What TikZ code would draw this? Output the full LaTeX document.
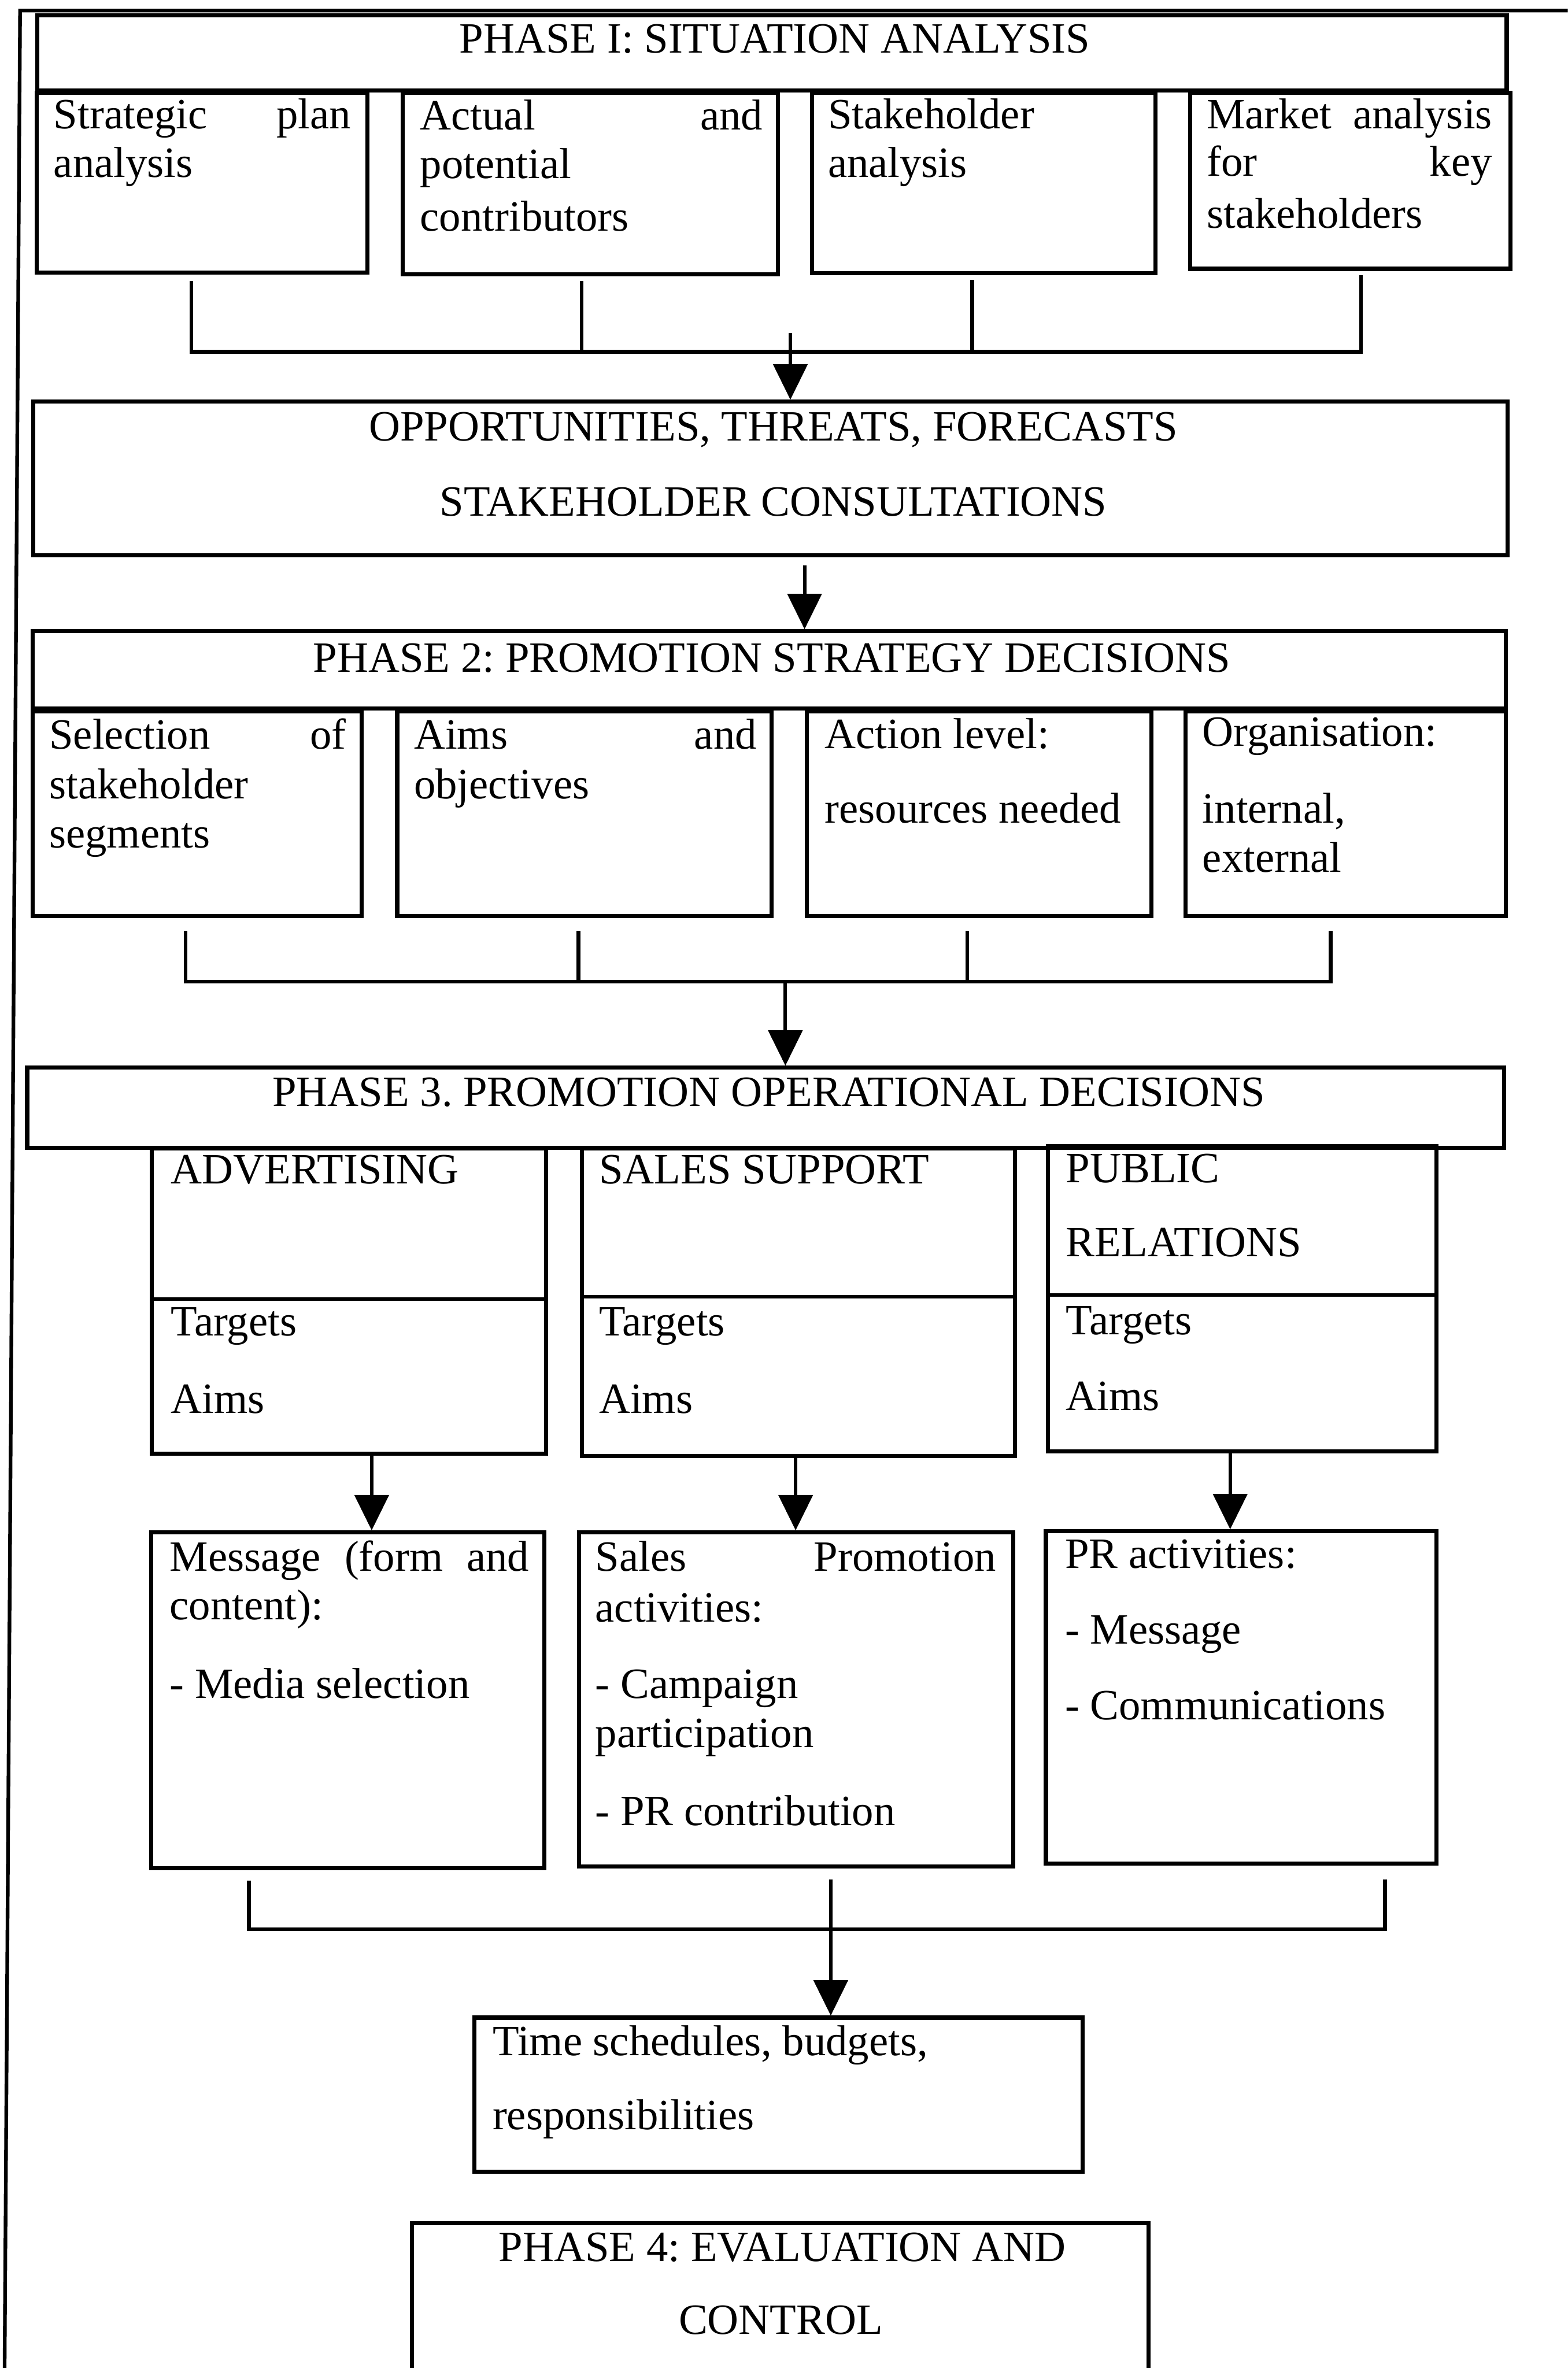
\documentclass[tikz,border=0pt]{standalone}
\usepackage{fontspec}
\setmainfont{Liberation Serif}
\usetikzlibrary{arrows.meta,fit,calc}
\newcommand\dfont{\fontsize{30.5pt}{35pt}\selectfont\frenchspacing}
% a line stretched to a fixed width (justified line)
\newcommand\jl[2]{\makebox[#1][s]{#2}}

\begin{document}
\begin{tikzpicture}[x=0.03747cm,y=-0.03747cm,
  box/.style={draw, line width=2.9pt, inner sep=0pt, rectangle},
  line/.style={line width=2.6pt},
  arr/.style={line width=2.4pt, -{Triangle[width=24pt,length=25pt]}},
  txt/.style={anchor=base west, inner sep=0pt, font=\dfont},
  ctxt/.style={anchor=base, inner sep=0pt, font=\dfont}]

\useasboundingbox (0,0) rectangle (1038,1568);
\clip (0,0) rectangle (1038,1568);

% outer frame (top and left rules)
\draw[line] (1045,7) -- (13.3,7) -- (3,1575);

% ---------- Phase 1 ----------
\node[box, fit={(24.8,10) (997.6,60)}] (p1) {};
\node[ctxt] (t-p1) at (513,35.2) {PHASE I: SITUATION ANALYSIS};

\node[box, fit={(24.3,61.5) (243.4,180.5)}] (sp) {};
\node[box, fit={(266.6,61.5) (515,181.6)}] (ac) {};
\node[box, fit={(537.5,61.5) (765,181)}] (sh) {};
\node[box, fit={(788,61.5) (1000,178)}] (mk) {};

\node[txt] (t-sp1) at (35.4,85) {\jl{209.8pt}{Strategic plan}};
\node[txt] (t-sp2) at (35.4,117.2) {analysis};
\node[txt] (t-ac1) at (278,86) {\jl{241.9pt}{Actual and}};
\node[txt] (t-ac2) at (278,118) {potential};
\node[txt] (t-ac3) at (278,153) {contributors};
\node[txt] (t-sh1) at (548,85) {Stakeholder};
\node[txt] (t-sh2) at (548,117.2) {analysis};
\node[txt] (t-mk1) at (798.8,85) {\jl{201.5pt}{Market analysis}};
\node[txt] (t-mk2) at (798.8,116.4) {\jl{201.5pt}{for key}};
\node[txt] (t-mk3) at (798.8,150.9) {stakeholders};

\node[box, fit={(22,266) (998,367.7)}] (op) {};
\node[ctxt] (t-op1) at (512,291.9) {OPPORTUNITIES, THREATS, FORECASTS};
\node[ctxt] (t-op2) at (512,341.6) {STAKEHOLDER CONSULTATIONS};

% bracket 1 and arrow
\coordinate (k11) at ($(sp.south)+(-7.25,4)$);
\coordinate (k12) at ($(ac.south)+(-5.8,3)$);
\coordinate (k13) at ($(sh.south)+(-7.55,3)$);
\coordinate (k14) at ($(mk.south)+(7.2,3)$);
\coordinate (bar1) at (0,233);
\draw[line] (k11) -- (k11 |- bar1) -- (k14 |- bar1) -- (k14);
\draw[line] (k12) -- (k12 |- bar1);
\draw[line] (k13) -- (k13 |- bar1);
\coordinate (a1) at (523.3,220.6);
\draw[arr] (a1) -- (a1 |- op.north);

% ---------- Phase 2 ----------
\node[box, fit={(21.6,418) (997,469)}] (p2) {};
\node[ctxt] (t-p2) at (511,444.9) {PHASE 2: PROMOTION STRATEGY DECISIONS};
\coordinate (a2) at ($(op.south)+(22.7,5.5)$);
\draw[arr] (a2) -- (a2 |- p2.north);

\node[box, fit={(21.6,471) (239.6,606.6)}] (se) {};
\node[box, fit={(263,471) (511,606.6)}] (ai) {};
\node[box, fit={(534.3,471) (762.5,606.6)}] (al) {};
\node[box, fit={(785,471) (997,606.6)}] (og) {};

\node[txt] (t-se1) at (32.5,495.8) {\jl{209.4pt}{Selection of}};
\node[txt] (t-se2) at (32.5,529) {stakeholder};
\node[txt] (t-se3) at (32.5,561.3) {segments};
\node[txt] (t-ai1) at (274,495.8) {\jl{241.9pt}{Aims and}};
\node[txt] (t-ai2) at (274,529) {objectives};
\node[txt] (t-al1) at (546,495.7) {Action level:};
\node[txt] (t-al2) at (546,545) {resources needed};
\node[txt] (t-og1) at (796,494) {Organisation:};
\node[txt] (t-og2) at (796,545) {internal,};
\node[txt] (t-og3) at (796,577.4) {external};

% bracket 2 and arrow
\coordinate (k21) at ($(se.south)+(-7.8,8.4)$);
\coordinate (k22) at ($(ai.south)+(-4,8.4)$);
\coordinate (k23) at ($(al.south)+(-7.9,8.4)$);
\coordinate (k24) at ($(og.south)+(-10,8.4)$);
\coordinate (bar2) at (0,650);
\draw[line] (k21) -- (k21 |- bar2) -- (k24 |- bar2) -- (k24);
\draw[line] (k22) -- (k22 |- bar2);
\draw[line] (k23) -- (k23 |- bar2);

% ---------- Phase 3 ----------
\node[box, fit={(18,707) (996,760)}] (p3) {};
\node[ctxt] (t-p3) at (509,732.6) {PHASE 3. PROMOTION OPERATIONAL DECISIONS};
\coordinate (a3) at (520,650);
\draw[arr] (a3) -- (a3 |- p3.north);

\node[box, fit={(100.6,760.5) (361.6,962.4)}] (ad) {};
\node[box, fit={(385.2,760.5) (672,964)}] (ss) {};
\node[box, fit={(694,759) (951,961)}] (pr) {};
\draw[line] ([shift={(0,101)}]ad.north west) -- ([shift={(0,101)}]ad.north east);
\draw[line] ([shift={(0,99.5)}]ss.north west) -- ([shift={(0,99.5)}]ss.north east);
\draw[line] ([shift={(0,99.8)}]pr.north west) -- ([shift={(0,99.8)}]pr.north east);

\node[txt] (t-ad1) at (113,783.7) {ADVERTISING};
\node[txt] (t-ad2) at (113,884.6) {Targets};
\node[txt] (t-ad3) at (113,935.6) {Aims};
\node[txt] (t-ss1) at (396.5,783.7) {SALES SUPPORT};
\node[txt] (t-ss2) at (396.5,884.6) {Targets};
\node[txt] (t-ss3) at (396.5,935.6) {Aims};
\node[txt] (t-pr1) at (705.7,782.9) {PUBLIC};
\node[txt] (t-pr2) at (705.7,832) {RELATIONS};
\node[txt] (t-pr3) at (705.7,883.7) {Targets};
\node[txt] (t-pr4) at (705.7,934) {Aims};

% ---------- activity boxes ----------
\node[box, fit={(100,1014.7) (360.4,1237)}] (me) {};
\node[box, fit={(383.4,1014.7) (670.7,1236)}] (sa) {};
\node[box, fit={(692.5,1014) (951,1234)}] (pa) {};

\coordinate (a4) at ($(ad.south)+(15,0)$);
\draw[arr] (a4) -- (a4 |- me.north);
\coordinate (a5) at ($(ss.south)+(-1.8,0)$);
\draw[arr] (a5) -- (a5 |- sa.north);
\coordinate (a6) at ($(pr.south)+(-8,0)$);
\draw[arr] (a6) -- (a6 |- pa.north);

\node[txt] (t-me1) at (112.2,1040.3) {\jl{253.7pt}{Message (form and}};
\node[txt] (t-me2) at (112.2,1072.6) {content):};
\node[txt] (t-me3) at (112.2,1124.5) {- Media selection};
\node[txt] (t-sa1) at (394,1040.3) {\jl{283.1pt}{Sales Promotion}};
\node[txt] (t-sa2) at (394,1073.8) {activities:};
\node[txt] (t-sa3) at (394,1124.5) {- Campaign};
\node[txt] (t-sa4) at (394,1156.9) {participation};
\node[txt] (t-sa5) at (394,1208.7) {- PR contribution};
\node[txt] (t-pa1) at (705,1038.3) {PR activities:};
\node[txt] (t-pa2) at (705,1088.4) {- Message};
\node[txt] (t-pa3) at (705,1138.5) {- Communications};

% bracket 3 and arrow
\coordinate (k31) at ($(me.south)+(-65.4,7)$);
\coordinate (k32) at ($(pa.south)+(95.25,9)$);
\coordinate (bar3) at (0,1277.5);
\draw[line] (k31) -- (k31 |- bar3) -- (k32 |- bar3) -- (k32);

\node[box, fit={(314,1336) (716.8,1438)}] (ti) {};
\node[txt] (t-ti1) at (326,1361) {Time schedules, budgets,};
\node[txt] (t-ti2) at (326,1410) {responsibilities};
\coordinate (a7) at ($(sa.south)+(23,7)$);
\draw[arr] (a7) -- (a7 |- ti.north);

% ---------- Phase 4 ----------
\node[box, fit={(272.6,1472) (760.6,1600)}] (p4) {};
\node[ctxt] (t-p41) at (518,1497.5) {PHASE 4: EVALUATION AND};
\node[ctxt] (t-p42) at (517,1545.4) {CONTROL};

\end{tikzpicture}
\end{document}
